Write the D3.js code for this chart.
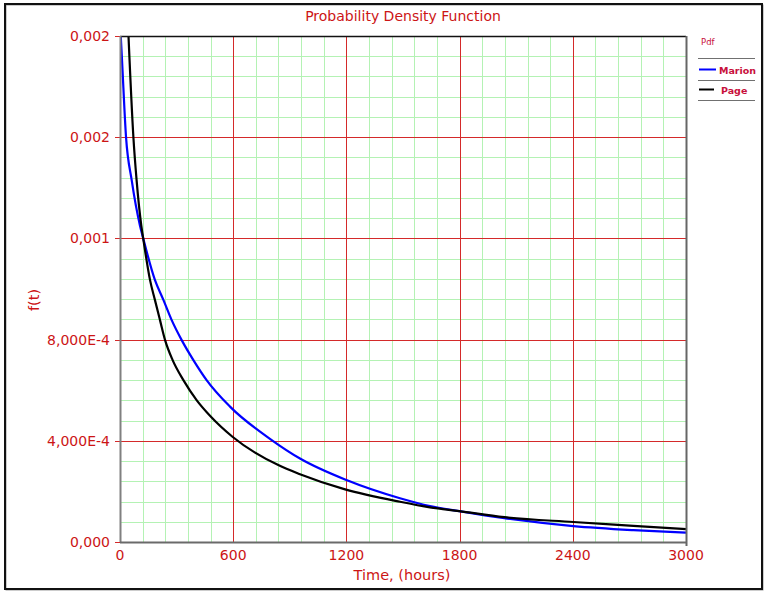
<!DOCTYPE html>
<html>
<head>
<meta charset="utf-8">
<script src="https://cdn.jsdelivr.net/npm/d3@7"></script>
<style>
  html, body { margin: 0; padding: 0; background: #fff; }
  svg { display: block; font-family: "DejaVu Sans", sans-serif; }
</style>
</head>
<body>
<svg id="chart" width="768" height="594"></svg>
<script>
// Probability density curves f(t) for two fitted life models
const marionTime = [4, 11, 32, 62, 106, 123, 185, 230, 274, 327, 389, 459, 583, 804, 954, 1200, 1484, 1643, 1798, 2037, 2403, 2721, 3000];
const marionPdf  = [0.0020, 0.0019, 0.0016, 0.00143, 0.00125, 0.0012, 0.001036, 0.000957, 0.000877, 0.000798, 0.000719, 0.00064, 0.000535, 0.000403, 0.00033, 0.000245, 0.000173, 0.000142, 0.000122, 0.000094, 0.000063, 0.000047, 0.000037];

const pageTime = [45, 71, 88, 113, 123, 159, 185, 212, 239, 279, 336, 406, 482, 596, 839, 954, 1193, 1484, 1643, 1798, 2037, 2403, 2721, 3000];
const pagePdf  = [0.0020, 0.0016, 0.00143, 0.00125, 0.0012, 0.001036, 0.000957, 0.000877, 0.000798, 0.000719, 0.00064, 0.000561, 0.000495, 0.000416, 0.000304, 0.000268, 0.000208, 0.000159, 0.000137, 0.000122, 0.000098, 0.000079, 0.000064, 0.000051];

const xTicks = [0, 600, 1200, 1800, 2400, 3000];
const yTicks = [0, 0.0004, 0.0008, 0.0012, 0.0016, 0.0020];
const yTickLabels = ["0,000", "4,000E-4", "8,000E-4", "0,001", "0,002", "0,002"];

const seriesNames = ["Marion", "Page"];
const seriesColors = ["#0000ff", "#000000"];

const svg = d3.select("#chart");
const pL = 120, pR = 686, pT = 36, pB = 542;

const x = d3.scaleLinear().domain([0, 3000]).range([pL, pR]);
const y = d3.scaleLinear().domain([0, 0.002]).range([pB, pT]);

const textRed = "#cc1515";
const legendRed = "#c8103c";

// outer frame
svg.append("rect").attr("x", 6).attr("y", 5).attr("width", 757).attr("height", 585)
  .attr("fill", "none").attr("stroke", "#9a9a9a").attr("stroke-width", 1);
svg.append("rect").attr("x", 5).attr("y", 4).attr("width", 757).attr("height", 585)
  .attr("fill", "none").attr("stroke", "#111").attr("stroke-width", 2);

// minor grid (five steps per major interval, skipping major positions)
const minorX = d3.range(0, 26).filter(i => i % 5 !== 0).map(i => i * 120);
const minorY = d3.range(0, 26).filter(i => i % 5 !== 0).map(i => i * 0.00008);
const grid = svg.append("g");
grid.selectAll(".mx").data(minorX).join("line")
  .attr("x1", d => Math.round(x(d)) + 0.5).attr("x2", d => Math.round(x(d)) + 0.5)
  .attr("y1", pT).attr("y2", pB)
  .attr("stroke", "#b4f2b4").attr("stroke-width", 1);
grid.selectAll(".my").data(minorY).join("line")
  .attr("y1", d => Math.round(y(d)) + 0.5).attr("y2", d => Math.round(y(d)) + 0.5)
  .attr("x1", pL).attr("x2", pR)
  .attr("stroke", "#b4f2b4").attr("stroke-width", 1);

// major grid
grid.selectAll(".Mx").data(xTicks).join("line")
  .attr("x1", d => Math.round(x(d)) + 0.5).attr("x2", d => Math.round(x(d)) + 0.5)
  .attr("y1", pT).attr("y2", pB)
  .attr("stroke", "#d42a2a").attr("stroke-width", 1);
grid.selectAll(".My").data(yTicks).join("line")
  .attr("y1", d => Math.round(y(d)) + 0.5).attr("y2", d => Math.round(y(d)) + 0.5)
  .attr("x1", pL - 5).attr("x2", pR)
  .attr("stroke", "#d42a2a").attr("stroke-width", 1);

// curves
svg.append("clipPath").attr("id", "plotclip")
  .append("rect").attr("x", pL).attr("y", pT).attr("width", pR - pL).attr("height", pB - pT);

const line = d3.line().x(d => x(d[0])).y(d => y(d[1])).curve(d3.curveMonotoneX);
const series = [
  d3.zip(marionTime, marionPdf),
  d3.zip(pageTime, pagePdf)
];
const curves = svg.append("g").attr("clip-path", "url(#plotclip)");
series.forEach((s, i) => {
  curves.append("path").datum(s)
    .attr("d", line).attr("fill", "none")
    .attr("stroke", seriesColors[i]).attr("stroke-width", 2.2)
    .attr("stroke-linejoin", "round");
});

// plot border
svg.append("line").attr("x1", pL).attr("x2", pR).attr("y1", pT + 0.5).attr("y2", pT + 0.5)
  .attr("stroke", "#111").attr("stroke-width", 1.5);
svg.append("line").attr("x1", pR + 0.5).attr("x2", pR + 0.5).attr("y1", pT).attr("y2", pB + 4)
  .attr("stroke", "#666").attr("stroke-width", 2);
svg.append("line").attr("x1", pL + 0.5).attr("x2", pL + 0.5).attr("y1", pT).attr("y2", pB)
  .attr("stroke", "#808080").attr("stroke-width", 2);
svg.append("line").attr("x1", pL).attr("x2", pR).attr("y1", pB + 0.5).attr("y2", pB + 0.5)
  .attr("stroke", "#6a6a6a").attr("stroke-width", 2);

// tick labels
svg.append("g").selectAll("text").data(xTicks).join("text")
  .attr("x", d => x(d)).attr("y", 560)
  .attr("text-anchor", "middle").attr("font-size", 14).attr("fill", textRed)
  .text(d => d);
svg.append("g").selectAll("text").data(yTicks).join("text")
  .attr("x", 110).attr("y", d => y(d) + 5)
  .attr("text-anchor", "end").attr("font-size", 14).attr("fill", textRed)
  .text((d, i) => yTickLabels[i]);

// titles
svg.append("text").attr("x", 403).attr("y", 21).attr("text-anchor", "middle")
  .attr("font-size", 14).attr("fill", textRed).text("Probability Density Function");
svg.append("text").attr("x", 402).attr("y", 580).attr("text-anchor", "middle")
  .attr("font-size", 14.5).attr("fill", textRed).text("Time, (hours)");
svg.append("text").attr("transform", "translate(39,300) rotate(-90)").attr("text-anchor", "middle")
  .attr("font-size", 14.5).attr("fill", textRed).text("f(t)");

// legend
const lg = svg.append("g");
lg.append("text").attr("x", 701).attr("y", 45).attr("font-size", 8.5).attr("fill", legendRed).text("Pdf");
[58.5, 80.5, 100.5].forEach(yy => {
  lg.append("line").attr("x1", 698).attr("x2", 755).attr("y1", yy).attr("y2", yy)
    .attr("stroke", "#707070").attr("stroke-width", 1);
});
const legendRows = [69.5, 89.5];
seriesNames.forEach((n, i) => {
  lg.append("line").attr("x1", 699).attr("x2", i === 0 ? 716 : 714)
    .attr("y1", legendRows[i]).attr("y2", legendRows[i])
    .attr("stroke", seriesColors[i]).attr("stroke-width", 2);
  lg.append("text").attr("x", i === 0 ? 719 : 721).attr("y", legendRows[i] + 4)
    .attr("font-size", 9.5).attr("font-weight", "bold").attr("fill", legendRed).text(n);
});
</script>
</body>
</html>
